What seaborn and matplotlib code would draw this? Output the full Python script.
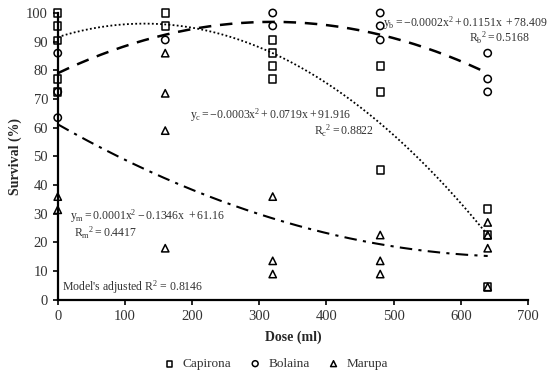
import numpy as np
import pandas as pd
import matplotlib
matplotlib.use("Agg")
import matplotlib.pyplot as plt
import seaborn as sns

# observed survival (%) per dose (ml)
capirona_dose = [0, 0, 0, 0, 0, 160, 160, 320, 320, 320, 320, 480, 480, 480, 640, 640, 640]
capirona_surv = [100, 95.5, 90.5, 77, 72.5, 100, 95.5, 90.6, 86, 81.5, 77, 81.5, 72.5, 45.3, 31.7, 22.6, 4.5]

bolaina_dose = [0, 0, 0, 160, 320, 320, 480, 480, 480, 640, 640, 640]
bolaina_surv = [86, 72.5, 63.5, 90.6, 100, 95.5, 100, 95.5, 90.6, 86, 77, 72.5]

marupa_dose = [0, 0, 160, 160, 160, 160, 320, 320, 320, 480, 480, 480, 640, 640, 640, 640]
marupa_surv = [36, 31.4, 86, 72, 59, 18, 36, 13.6, 9, 22.6, 13.6, 9, 27, 22.6, 18, 4.5]

# trendline values
trend_dose = [0, 320, 640]
trend_capirona = [91.6, 86.0, 22.6]
trend_bolaina = [79.0, 96.9, 79.0]
trend_marupa = [61.2, 28.4, 15.3]

sns.set_style("ticks")
plt.rcParams["font.family"] = ["Liberation Serif", "DejaVu Serif"]
plt.rcParams["mathtext.fontset"] = "custom"
plt.rcParams["mathtext.rm"] = "Liberation Serif"
plt.rcParams["mathtext.it"] = "Liberation Serif:italic"

fig = plt.figure(figsize=(5.5, 3.82), dpi=100)
ax = fig.add_axes([0.105, 0.215, 0.855, 0.751])

xs = np.linspace(0, 640, 200)
curves = [
    (trend_capirona, (0, (1, 1.3)), 1.3),
    (trend_bolaina, (0, (5, 3.5)), 1.8),
    (trend_marupa, (0, (6, 3, 1.5, 3)), 1.5),
]
for vals, ls, lw in curves:
    coef = np.polyfit(trend_dose, vals, 2)
    sns.lineplot(x=xs, y=np.polyval(coef, xs), ax=ax, color="black",
                 linestyle=ls, linewidth=lw, zorder=2)

series = [
    ("Capirona", capirona_dose, capirona_surv, "s"),
    ("Bolaina", bolaina_dose, bolaina_surv, "o"),
    ("Marupa", marupa_dose, marupa_surv, "^"),
]
for name, d, s, m in series:
    df = pd.DataFrame({"dose": d, "surv": s})
    sns.scatterplot(data=df, x="dose", y="surv", ax=ax, marker=m, s=28,
                    color="white", edgecolor="black", linewidth=1.1,
                    label=name, zorder=3, clip_on=False)
    ax.collections[-1].set_facecolor("none")

ax.set_xlim(0, 700)
ax.set_ylim(0, 100)
ax.set_xticks(range(0, 701, 100))
ax.set_yticks(range(0, 101, 10))
ax.tick_params(axis="both", direction="out", length=3.5, width=1.2,
               labelsize=10.5, color="black", labelcolor="#333333")
for side in ["left", "bottom"]:
    ax.spines[side].set_linewidth(1.6)
    ax.spines[side].set_color("black")
sns.despine(ax=ax)

ax.set_xlabel("Dose (ml)", fontsize=10, fontweight="bold", labelpad=6)
ax.set_ylabel("Survival (%)", fontsize=10, fontweight="bold", labelpad=3)

tkw = dict(fontsize=8.5, color="#333333", va="center")
ax.text(484, 96.6, r"$\mathregular{y_b = -0.0002x^2 + 0.1151x\ + 78.409}$", ha="left", clip_on=False, **tkw)
ax.text(703, 91.2, r"$\mathregular{R_b{}^2 = 0.5168}$", ha="right", clip_on=False, **tkw)
ax.text(197, 64.2, r"$\mathregular{y_c = -0.0003x^2 + 0.0719x + 91.916}$", ha="left", **tkw)
ax.text(471, 59.0, r"$\mathregular{R_c{}^2 = 0.8822}$", ha="right", **tkw)
ax.text(18, 29.0, r"$\mathregular{y_m = 0.0001x^2 - 0.1346x\ + 61.16}$", ha="left", **tkw)
ax.text(24, 23.3, r"$\mathregular{R_m{}^2 = 0.4417}$", ha="left", **tkw)
ax.text(7, 4.4, r"Model's adjusted R$\mathregular{^2}$ = 0.8146", ha="left", **tkw)

handles, labels = ax.get_legend_handles_labels()
ax.legend_.remove()
fig.legend(handles, labels, loc="lower center", bbox_to_anchor=(0.495, 0.0),
           ncol=3, frameon=False, fontsize=9.5, handletextpad=0.0,
           columnspacing=0.8, markerscale=0.8, labelcolor="#333333")

fig.savefig("out.png", dpi=100)
